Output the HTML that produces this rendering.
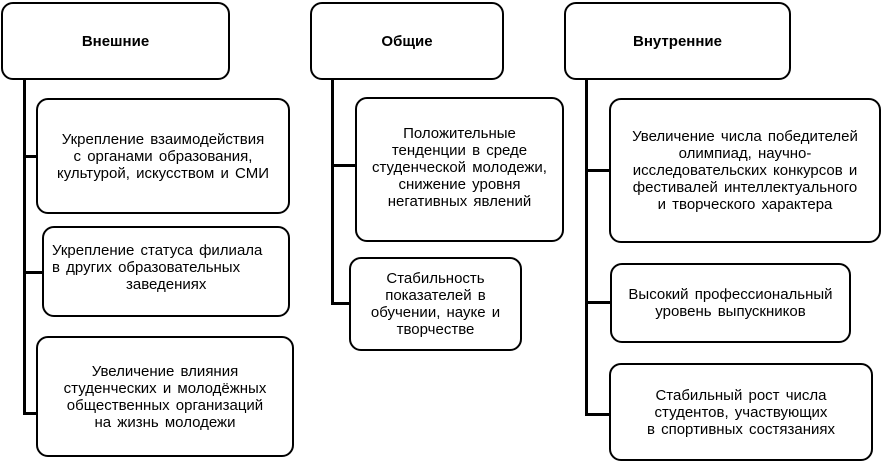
<!DOCTYPE html>
<html><head><meta charset="utf-8"><style>
body{margin:0;width:884px;height:468px;background:#fff;position:relative;overflow:hidden;font-family:"Liberation Sans",Arial,sans-serif;}
.b{position:absolute;border:2.5px solid #000;border-radius:12px;box-sizing:border-box;display:flex;align-items:center;justify-content:center;text-align:center;font-size:15px;line-height:17px;word-spacing:2px;color:#000;}
.h{font-weight:bold;font-size:15px;}
.l{position:absolute;background:#000;}
</style></head><body>
<div class="b h" style="left:1px;top:2px;width:229px;height:78px">Внешние</div>
<div class="b h" style="left:310px;top:2px;width:194px;height:78px">Общие</div>
<div class="b h" style="left:564px;top:2px;width:227px;height:78px">Внутренние</div>

<div class="l" style="left:23px;top:79px;width:2.5px;height:335px"></div>
<div class="l" style="left:23px;top:155px;width:14px;height:2.5px"></div>
<div class="l" style="left:23px;top:271px;width:20px;height:2.5px"></div>
<div class="l" style="left:23px;top:412px;width:14px;height:2.5px"></div>

<div class="l" style="left:331px;top:79px;width:2.5px;height:225px"></div>
<div class="l" style="left:331px;top:164px;width:25px;height:2.5px"></div>
<div class="l" style="left:331px;top:302px;width:19px;height:2.5px"></div>

<div class="l" style="left:585px;top:79px;width:2.5px;height:336px"></div>
<div class="l" style="left:585px;top:169px;width:25px;height:2.5px"></div>
<div class="l" style="left:585px;top:301px;width:27px;height:2.5px"></div>
<div class="l" style="left:585px;top:413px;width:25px;height:2.5px"></div>

<div class="b" style="left:36px;top:98px;width:254px;height:116px">Укрепление взаимодействия<br>с органами образования,<br>культурой, искусством и СМИ</div>
<div class="b" style="left:42px;top:226px;width:248px;height:91px;justify-content:flex-start;text-align:left;padding-left:8px;align-items:flex-start;padding-top:14px">Укрепление статуса филиала<br>в других образовательных<br>&nbsp;&nbsp;&nbsp;&nbsp;&nbsp;&nbsp;&nbsp;&nbsp;&nbsp;&nbsp;&nbsp;&nbsp;заведениях</div>
<div class="b" style="left:36px;top:336px;width:258px;height:121px">Увеличение влияния<br>студенческих и молодёжных<br>общественных организаций<br>на жизнь молодежи</div>

<div class="b" style="left:355px;top:97px;width:209px;height:145px;align-items:flex-start;padding-top:26px">Положительные<br>тенденции в среде<br>студенческой молодежи,<br>снижение уровня<br>негативных явлений</div>
<div class="b" style="left:349px;top:257px;width:173px;height:94px">Стабильность<br>показателей в<br>обучении, науке и<br>творчестве</div>

<div class="b" style="left:609px;top:98px;width:272px;height:145px">Увеличение числа победителей<br>олимпиад, научно-<br>исследовательских конкурсов и<br>фестивалей интеллектуального<br>и творческого характера</div>
<div class="b" style="left:610px;top:263px;width:241px;height:80px">Высокий профессиональный<br>уровень выпускников</div>
<div class="b" style="left:609px;top:363px;width:264px;height:98px">Стабильный рост числа<br>студентов, участвующих<br>в спортивных состязаниях</div>
</body></html>
